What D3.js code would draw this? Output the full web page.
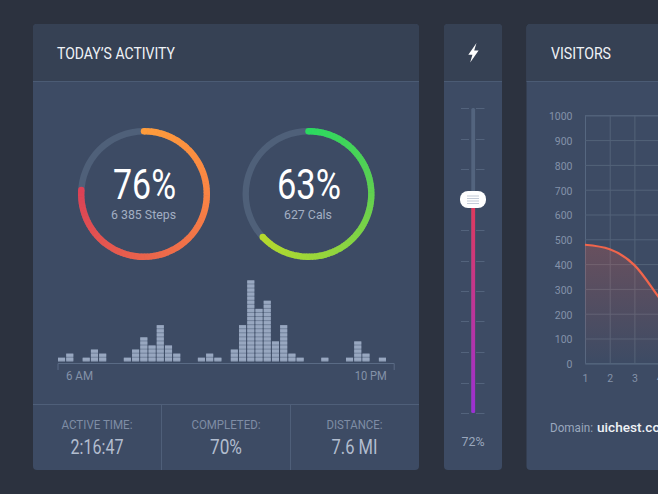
<!DOCTYPE html>
<html><head><meta charset="utf-8">
<script src="https://cdnjs.cloudflare.com/ajax/libs/d3/7.8.5/d3.min.js"></script>
<style>html,body{margin:0;background:#2c323f;overflow:hidden}svg{display:block}text{font-family:Roboto,sans-serif}</style>
</head><body><svg id="c" width="658" height="494"></svg>
<script>
const activity = [1,2,0,1,3,2,0,0,1,3,6,4,9,4,2,0,0,1,2,1,0,3,9,20,13,15,5,9,2,1,0,0,1,0,0,1,5,2,0,1,0];
const rings = ["Steps","Cals"];
const ringPercents = [76,63];
const ringCounts = ["6 385 Steps","627 Cals"];
const statLabels = ["ACTIVE TIME:","COMPLETED:","DISTANCE:"];
const statValues = ["2:16:47","70%","7.6 MI"];
const sliderTicks = [0,10,20,30,40,50,60,70,80,90,100];
const sliderPosition = 70;
const sliderLabel = "72%";
const visitorsX = [1,2,3,4,5,6];
const visitorsY = [478,460,396,265,130,60];
const visitorLabelsX = [1,2,3,4];
const visitorTicksY = [0,100,200,300,400,500,600,700,800,900,1000];

const svg = d3.select("#c");
const defs = svg.append("defs");

function panel(x,w){
  const g = svg.append("g");
  g.append("rect").attr("x",x).attr("y",24).attr("width",w).attr("height",446).attr("rx",4).attr("fill","#3d4b64");
  g.append("path").attr("d",`M${x} 81V28a4 4 0 0 1 4-4H${x+w-4}a4 4 0 0 1 4 4V81Z`).attr("fill","#364154");
  g.append("rect").attr("x",x).attr("y",81).attr("width",w).attr("height",1).attr("fill","#4b5b74");
}
panel(33,386); panel(444,58); panel(526.5,160);

function label(x,y,t,size,fill,w,anchor,weight){
  const s = svg.append("text").attr("x",x).attr("y",y).text(t).attr("font-size",size).attr("fill",fill)
    .attr("text-anchor",anchor||"middle").attr("font-weight",weight||400);
  if(w) s.attr("textLength",w).attr("lengthAdjust","spacingAndGlyphs");
  return s;
}
label(57,58.5,"TODAY’S ACTIVITY",17,"#f0f3f7",118,"start");
label(551,58.5,"VISITORS",17,"#f0f3f7",60,"start");

// rings
const ringCenters = d3.scalePoint().domain(rings).range([144,308.5]);
const ringColors = [["#ff9c3b","#fa8344","#e9624c","#dc4156"],["#2bd960","#58d053","#90d53f","#b5d92d"]];
const pct = d3.scaleLinear().domain([0,100]).range([0,2*Math.PI]);
const R0=59.6,R1=66;
rings.forEach((r,i)=>{
  const g = svg.append("g").attr("transform",`translate(${ringCenters(r)},194)`);
  const arc = d3.arc().innerRadius(R0).outerRadius(R1);
  g.append("path").attr("d",arc({startAngle:0,endAngle:2*Math.PI})).attr("fill","#4f6079");
  const c = d3.scaleLinear().domain([0,1/3,2/3,1]).range(ringColors[i]).interpolate(d3.interpolateRgb);
  const end = pct(ringPercents[i]);
  const n = 90;
  d3.range(n).forEach(k=>{
    const a0=end*k/n,a1=end*(k+1)/n+0.01;
    g.append("path").attr("d",arc({startAngle:a0,endAngle:Math.min(a1,end)})).attr("fill",c(k/n));
  });
  const capR=(R1-R0)/2,mid=(R0+R1)/2;
  [[0,0],[end,1]].forEach(([a,t])=>{
    g.append("circle").attr("cx",mid*Math.sin(a)).attr("cy",-mid*Math.cos(a)).attr("r",capR).attr("fill",c(t));
  });
  label(ringCenters(r)+0.5,198.5,ringPercents[i]+"%",42,"#ffffff",i?64:63);
  label(ringCenters(r)-0.5,219,ringCounts[i],12.5,"#a3afc3",i?48:65);
});

// activity bars
const bx = d3.scaleBand().domain(d3.range(activity.length)).range([58,394.2]).paddingInner(0.14).align(0);
const by = d3.scaleLinear().domain([0,20]).range([361.8,280.4]);
const bars = svg.append("g");
activity.forEach((h,i)=>{
  if(!h) return;
  bars.append("rect").attr("x",bx(i)).attr("width",bx.bandwidth()).attr("y",by(h)).attr("height",by(0)-by(h)).attr("fill","#72829b");
  bars.selectAll(null).data(d3.range(h)).enter().append("rect")
    .attr("x",bx(i)).attr("width",bx.bandwidth())
    .attr("y",d=>by(d+1)).attr("height",(by(0)-by(1))-1)
    .attr("fill","#98a7c0");
});
const axisG = svg.append("g").attr("transform","translate(0,363)");
axisG.append("path").attr("d","M58 7V0.5H394.2V7").attr("fill","none").attr("stroke","#5a6b85");
label(66,380,"6 AM",12.5,"#8492a9",27,"start");
label(386.7,380,"10 PM",12.5,"#8492a9",32,"end");

// stats
svg.append("rect").attr("x",33).attr("y",404).attr("width",386).attr("height",1).attr("fill","#4f5f79");
[161,290].forEach(x=>svg.append("rect").attr("x",x).attr("y",404).attr("width",1).attr("height",66).attr("fill","#4f5f79"));
const sx = [97,226,354.5];
statLabels.forEach((t,i)=>{
  label(sx[i],429,t,12,"#7f8da5",[71,69,56][i]);
  label(sx[i],453.5,statValues[i],21,"#b2bdcf",[53,32,46][i]);
});

// slider
const sy = d3.scaleLinear().domain([100,0]).range([108,413]);
const sg = svg.append("g");
const grad = defs.append("linearGradient").attr("id","sl").attr("x1",0).attr("x2",0).attr("y1",0).attr("y2",1);
grad.append("stop").attr("offset",0).attr("stop-color","#e23a58");
grad.append("stop").attr("offset",1).attr("stop-color","#9a30d4");
sg.selectAll("path.t").data(sliderTicks).enter().append("path").attr("class","t")
  .attr("d",d=>`M461 ${Math.round(sy(d))+.5}H469M476 ${Math.round(sy(d))+.5}H484.5`).attr("stroke","#53637c").attr("fill","none");
sg.append("rect").attr("x",471.3).attr("width",3.8).attr("y",sy(100)).attr("height",sy(0)-sy(100)).attr("rx",1.5).attr("fill","#53647e");
sg.append("rect").attr("x",471.3).attr("width",3.8).attr("y",sy(sliderPosition)).attr("height",sy(0)-sy(sliderPosition)).attr("rx",1.5).attr("fill","url(#sl)");
const ty = sy(sliderPosition);
sg.append("rect").attr("x",460).attr("y",ty-8.5).attr("width",26).attr("height",17).attr("rx",8).attr("fill","#ffffff");
[-4,-1.5,1,3.5].forEach(o=>sg.append("rect").attr("x",467).attr("y",ty+o).attr("width",12).attr("height",1).attr("fill","#c3cbd8"));
svg.append("path").attr("d","M476.5 43L468.3 54.7H472.4L470.2 62.6L478.6 50.4H474.2Z").attr("fill","#fff");
label(473,445.5,sliderLabel,13,"#9aa7bd",23);

// visitors chart
const vx = d3.scaleLinear().domain([1,6]).range([585,708.5]);
const vy = d3.scaleLinear().domain([0,1000]).range([363.3,115.3]);
const vg = svg.append("g");
const xGrid = d3.axisBottom(vx).tickValues(visitorLabelsX).tickSize(-248).tickPadding(11).tickFormat(d3.format("d"));
const yGrid = d3.axisLeft(vy).tickValues(visitorTicksY).tickSize(-123.5).tickPadding(12.5).tickFormat(d3.format("d"));
const ax = vg.append("g").attr("transform","translate(0,363.3)").call(xGrid);
const ay = vg.append("g").attr("transform","translate(585,0)").call(yGrid);
[ax,ay].forEach(a=>{
  a.select(".domain").attr("stroke","#566780");
  a.selectAll("line").attr("stroke","#536379");
  a.selectAll("text").attr("fill","#8492a9").attr("font-size",10.5).attr("font-family","Roboto,sans-serif");
});
ay.selectAll("text").attr("dy","0.42em");
const ag = defs.append("linearGradient").attr("id","ar").attr("x1",0).attr("x2",0).attr("y1",0).attr("y2",1);
ag.append("stop").attr("offset",0).attr("stop-color","#f0604c").attr("stop-opacity",.24);
ag.append("stop").attr("offset",1).attr("stop-color","#f0604c").attr("stop-opacity",0);
const pts = visitorsX.map((x,i)=>[x,visitorsY[i]]);
vg.append("path").datum(pts).attr("fill","url(#ar)")
  .attr("d",d3.area().x(d=>vx(d[0])).y0(vy(0)).y1(d=>vy(d[1])).curve(d3.curveMonotoneX));
vg.append("path").datum(pts).attr("fill","none").attr("stroke","#f0654c").attr("stroke-width",2.2)
  .attr("d",d3.line().x(d=>vx(d[0])).y(d=>vy(d[1])).curve(d3.curveMonotoneX));
label(550,431.5,"Domain:",13.5,"#9aa7bd",43,"start");
label(597,431.5,"uichest.com",13.5,"#eef1f5",75,"start",500);
</script></body></html>
